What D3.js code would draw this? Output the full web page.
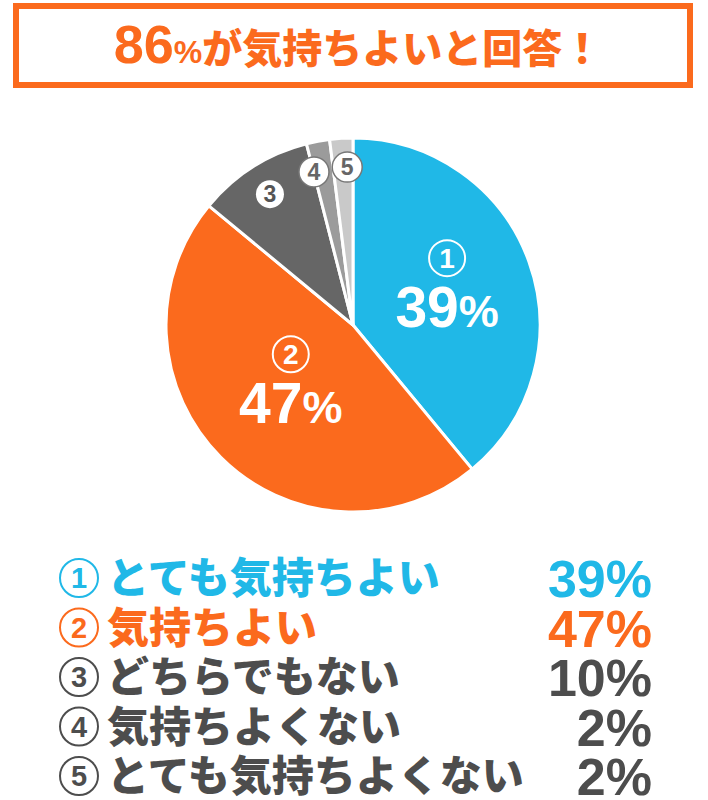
<!DOCTYPE html>
<html>
<head>
<meta charset="utf-8">
<script src="https://cdn.jsdelivr.net/npm/d3@7"></script>
<style>
  body { margin: 0; background: #fff; }
  svg { display: block; }
</style>
</head>
<body>
<div id="root"></div>
<script>
// data
const categories = ['とても気持ちよい', '気持ちよい', 'どちらでもない', '気持ちよくない', 'とても気持ちよくない'];
const numbers = ['1', '2', '3', '4', '5'];
const values = [39, 47, 10, 2, 2];
const titleNumber = '86';
const titleText = 'が気持ちよいと回答！';

const colors = ['#20b8e7', '#fb6a1d', '#666666', '#9b9b9b', '#c9c9c9'];
const legendColors = ['#20b8e7', '#fb6a1d', '#4d4d4d', '#4d4d4d', '#4d4d4d'];
const orange = '#fb6a1d';

const width = 708, height = 800;
const jp = '"Noto Sans CJK JP", sans-serif';
const num = '"Liberation Sans", Arial, sans-serif';
const narrow = '"Liberation Sans Narrow", "Liberation Sans", sans-serif';

const svg = d3.select('#root').append('svg')
  .attr('width', width)
  .attr('height', height)
  .attr('viewBox', [0, 0, width, height]);

// title box
svg.append('rect')
  .attr('x', 16).attr('y', 6)
  .attr('width', 674).attr('height', 79)
  .attr('fill', '#fff')
  .attr('stroke', orange)
  .attr('stroke-width', 6);

const title = svg.append('text')
  .attr('x', 358).attr('y', 63)
  .attr('text-anchor', 'middle')
  .attr('fill', orange)
  .attr('font-weight', 'bold');
title.append('tspan').attr('font-family', num).attr('font-size', 54).text(titleNumber);
title.append('tspan').attr('font-family', num).attr('font-size', 32).text('%');
title.append('tspan').attr('font-family', jp).attr('font-size', 40).attr('font-weight', 900).text(titleText);

// pie
const cx = 353, cy = 325, radius = 187;
const pie = d3.pie().sort(null).value(d => d);
const arcs = pie(values);
const arc = d3.arc().innerRadius(0).outerRadius(radius);

const g = svg.append('g').attr('transform', `translate(${cx},${cy})`);

g.selectAll('path.slice')
  .data(arcs)
  .join('path')
  .attr('class', 'slice')
  .attr('d', arc)
  .attr('fill', (d, i) => colors[i])
  .attr('stroke', '#fff')
  .attr('stroke-width', 3)
  .attr('stroke-linejoin', 'round');

// label distance from centre per slice, and a small angle nudge (degrees)
const labelRadius = [100, 88, 155, 158, 158];
const labelNudge = [0, 0, 0, -3.5, 1.5];
function labelPos(d, i) {
  const a = (d.startAngle + d.endAngle) / 2 + labelNudge[i] * Math.PI / 180;
  return [Math.sin(a) * labelRadius[i], -Math.cos(a) * labelRadius[i]];
}

// big slices: circled number + percent
arcs.slice(0, 2).forEach((d, i) => {
  const [x, y] = labelPos(d, i);
  const lg = g.append('g').attr('transform', `translate(${x},${y})`);
  lg.append('circle')
    .attr('cy', -33).attr('r', 18)
    .attr('fill', 'none').attr('stroke', '#fff').attr('stroke-width', 2);
  lg.append('text')
    .attr('y', -23)
    .attr('text-anchor', 'middle')
    .attr('fill', '#fff')
    .attr('font-family', narrow).attr('font-weight', 'bold').attr('font-size', 28)
    .text(numbers[i]);
  const t = lg.append('text')
    .attr('y', 36)
    .attr('text-anchor', 'middle')
    .attr('fill', '#fff')
    .attr('font-family', num).attr('font-weight', 'bold');
  t.append('tspan').attr('font-size', 57).text(values[i]);
  t.append('tspan').attr('font-size', 45).text('%');
});

// small slices: white badge with number
arcs.slice(2).forEach((d, k) => {
  const i = k + 2;
  const [x, y] = labelPos(d, i);
  const lg = g.append('g').attr('transform', `translate(${x},${y})`);
  lg.append('circle')
    .attr('r', i === 2 ? 14 : 15)
    .attr('fill', '#fff')
    .attr('stroke', i === 2 ? 'none' : '#777')
    .attr('stroke-width', 1.5);
  lg.append('text')
    .attr('y', 8)
    .attr('text-anchor', 'middle')
    .attr('fill', i === 2 ? '#555' : '#666')
    .attr('font-family', narrow).attr('font-weight', 'bold').attr('font-size', 23)
    .text(numbers[i]);
});

// legend
const rowY = d3.scalePoint().domain(d3.range(categories.length)).range([578, 776]);

const rows = svg.selectAll('g.row')
  .data(categories)
  .join('g')
  .attr('class', 'row')
  .attr('transform', (d, i) => `translate(0,${rowY(i)})`);

rows.append('circle')
  .attr('cx', 79).attr('r', 19)
  .attr('fill', '#fff')
  .attr('stroke', (d, i) => legendColors[i])
  .attr('stroke-width', 2);

rows.append('text')
  .attr('x', 79).attr('y', 10)
  .attr('text-anchor', 'middle')
  .attr('fill', (d, i) => legendColors[i])
  .attr('font-family', narrow).attr('font-weight', 'bold').attr('font-size', 29)
  .text((d, i) => numbers[i]);

rows.append('text')
  .attr('x', 107).attr('y', 15)
  .attr('fill', (d, i) => legendColors[i])
  .attr('font-family', jp).attr('font-weight', 900).attr('font-size', 42)
  .text(d => d);

rows.append('text')
  .attr('x', 652).attr('y', 19)
  .attr('text-anchor', 'end')
  .attr('fill', (d, i) => legendColors[i])
  .attr('font-family', num).attr('font-weight', 'bold').attr('font-size', 52)
  .text((d, i) => values[i] + '%');
</script>
</body>
</html>
